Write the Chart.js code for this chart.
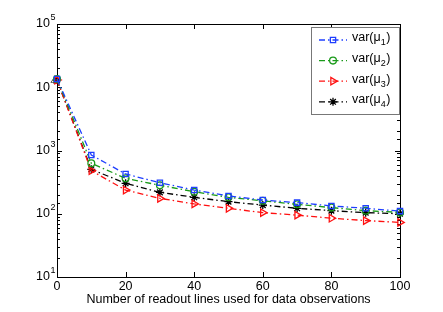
<!DOCTYPE html>
<html>
<head>
<meta charset="utf-8">
<script src="https://cdn.jsdelivr.net/npm/chart.js@4"></script>
<style>
  body { margin: 0; background: #fff; }
</style>
</head>
<body>
<canvas id="varChart" width="443" height="312"></canvas>
<script>
// readout lines used (x) and the variance of each estimate
var readoutLines = [0, 10, 20, 30, 40, 50, 60, 70, 80, 90, 100];
var varMu1 = [13500, 850, 425, 310, 237, 191, 165, 150, 133, 122, 110];
var varMu2 = [13500, 628, 363, 282, 223, 182, 160, 141, 125, 112, 105];
var varMu3 = [13000, 479, 237, 175, 143, 122, 104, 95, 85, 78, 73];
var varMu4 = [13000, 504, 303, 218, 182, 155, 137, 122, 112, 104, 100];
var seriesSubs = ['1', '2', '3', '4'];
var xTicks = [0, 20, 40, 60, 80, 100];
var yDecades = [1, 2, 3, 4, 5];

var FONT = '"Liberation Sans", Arial, Helvetica, sans-serif';
var dashDot = [6, 3, 1.5, 3];

function pts(ys) {
    return readoutLines.map(function (x, i) { return { x: x, y: ys[i] }; });
}

function series(ys, color, style, radius, rotation) {
    return {
        data: pts(ys),
        borderColor: color,
        backgroundColor: 'rgba(0,0,0,0)',
        borderWidth: 1.3,
        borderDash: dashDot,
        pointStyle: style,
        pointRadius: radius,
        pointRotation: rotation || 0,
        pointBorderColor: color,
        pointBackgroundColor: 'rgba(0,0,0,0)',
        pointBorderWidth: 1.3,
        tension: 0,
        clip: false
    };
}

var datasets = [
    series(varMu1, '#1f3fff', 'rect', 3.7),
    series(varMu2, '#1a9a1a', 'circle', 3.4),
    series(varMu3, '#ff1010', 'triangle', 4.3, 90),
    series(varMu4, '#000000', 'star', 4)
];

// box, inward ticks, y labels with exponents, and the legend box
var matlabAxes = {
    id: 'matlabAxes',
    beforeDatasetsDraw: function (chart) {
        var ctx = chart.ctx, a = chart.chartArea;
        var xs = chart.scales.x, ys = chart.scales.y;
        ctx.save();
        ctx.strokeStyle = '#000';
        ctx.lineWidth = 1;
        ctx.strokeRect(a.left + 0.5, a.top + 0.5, a.right - a.left, a.bottom - a.top);
        ctx.beginPath();
        xTicks.forEach(function (v) {
            var px = Math.round(xs.getPixelForValue(v)) + 0.5;
            ctx.moveTo(px, a.bottom); ctx.lineTo(px, a.bottom - 5);
            ctx.moveTo(px, a.top); ctx.lineTo(px, a.top + 5);
        });
        ys.ticks.forEach(function (t) {
            var lg = Math.log10(t.value);
            var major = Math.abs(lg - Math.round(lg)) < 1e-6;
            var len = major ? 5 : 3;
            var py = Math.round(ys.getPixelForValue(t.value)) + 0.5;
            ctx.moveTo(a.left, py); ctx.lineTo(a.left + len, py);
            ctx.moveTo(a.right, py); ctx.lineTo(a.right - len, py);
        });
        ctx.stroke();

        ctx.fillStyle = '#000';
        ctx.textBaseline = 'middle';
        yDecades.forEach(function (e) {
            var py = ys.getPixelForValue(Math.pow(10, e));
            ctx.font = '12.5px ' + FONT;
            ctx.textAlign = 'right';
            ctx.fillText('10', 50, py);
            ctx.font = '9px ' + FONT;
            ctx.textAlign = 'left';
            ctx.fillText(String(e), 50.5, py - 6);
        });
        ctx.restore();
    },
    afterDraw: function (chart) {
        var ctx = chart.ctx;
        var bx = 311, by = 27, bw = 88, bh = 87;
        ctx.save();
        ctx.fillStyle = '#fff';
        ctx.fillRect(bx, by, bw, bh);
        ctx.strokeStyle = '#777';
        ctx.lineWidth = 1;
        ctx.strokeRect(bx + 0.5, by + 0.5, bw, bh);
        chart.data.datasets.forEach(function (ds, i) {
            var cy = 40 + i * 20.6;
            ctx.strokeStyle = ds.borderColor;
            ctx.lineWidth = 1.3;
            ctx.setLineDash(dashDot);
            ctx.beginPath();
            ctx.moveTo(319, cy); ctx.lineTo(347, cy);
            ctx.stroke();
            ctx.setLineDash([]);
            ctx.fillStyle = 'rgba(0,0,0,0)';
            Chart.helpers.drawPoint(ctx, {
                pointStyle: ds.pointStyle,
                radius: ds.pointRadius,
                rotation: ds.pointRotation,
                borderWidth: 1.3
            }, 333, cy);
            ctx.fillStyle = '#000';
            ctx.textBaseline = 'middle';
            ctx.textAlign = 'left';
            ctx.font = '12.5px ' + FONT;
            var label = 'var(\u03bc';
            ctx.fillText(label, 352, cy - 2);
            var w = ctx.measureText(label).width;
            ctx.font = '9px ' + FONT;
            ctx.fillText(seriesSubs[i], 352 + w, cy + 3);
            var w2 = ctx.measureText(seriesSubs[i]).width;
            ctx.font = '12.5px ' + FONT;
            ctx.fillText(')', 352 + w + w2 + 0.5, cy - 2);
        });
        ctx.restore();
    }
};

var ctx = document.getElementById('varChart').getContext('2d');
var varChart = new Chart(ctx, {
    type: 'line',
    data: { datasets: datasets },
    options: {
        responsive: false,
        animation: false,
        layout: { padding: { top: 24, right: 43, left: 0, bottom: 0 } },
        plugins: {
            legend: { display: false },
            tooltip: { enabled: false }
        },
        scales: {
            x: {
                type: 'linear',
                min: 0,
                max: 100,
                afterBuildTicks: function (scale) {
                    scale.ticks = xTicks.map(function (v) { return { value: v }; });
                },
                afterFit: function (scale) { scale.height = 35; },
                grid: { display: false, drawTicks: false },
                border: { display: false },
                ticks: {
                    color: '#000',
                    padding: 2,
                    maxRotation: 0,
                    font: { family: FONT, size: 12.5 }
                },
                title: {
                    display: true,
                    text: 'Number of readout lines used for data observations',
                    color: '#000',
                    font: { family: FONT, size: 12.5 },
                    padding: { top: 0, bottom: 5 }
                }
            },
            y: {
                type: 'logarithmic',
                min: 10,
                max: 100000,
                afterFit: function (scale) { scale.width = 57; },
                grid: { display: false, drawTicks: false },
                border: { display: false },
                ticks: { display: false, autoSkip: false }
            }
        }
    },
    plugins: [matlabAxes]
});
</script>
</body>
</html>
